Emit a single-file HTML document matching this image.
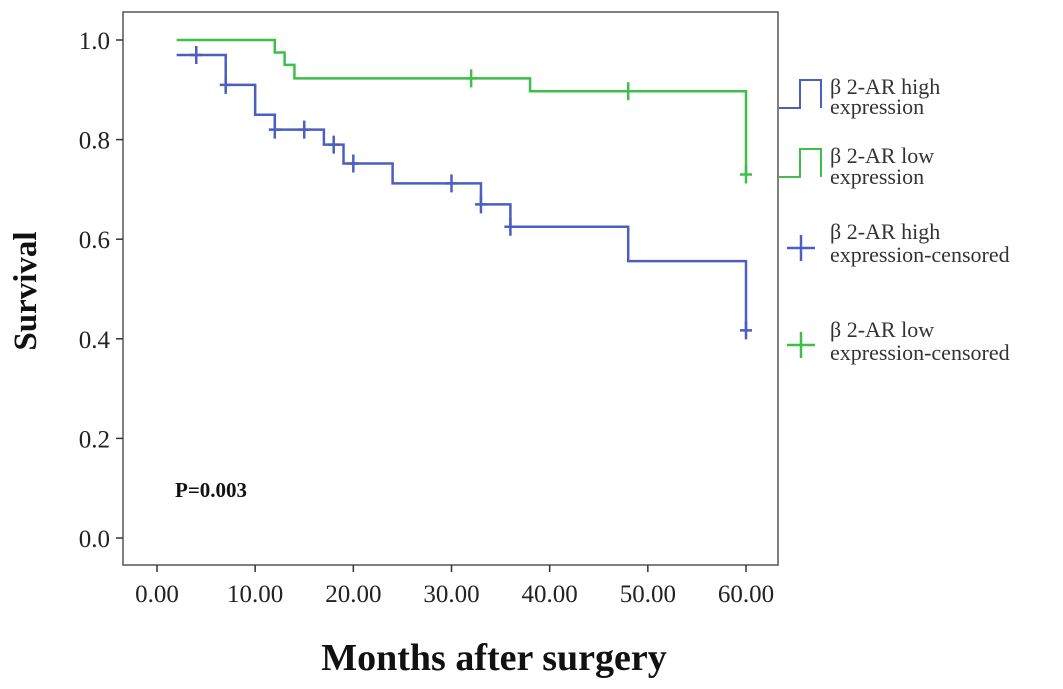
<!DOCTYPE html>
<html><head><meta charset="utf-8"><style>
body{margin:0;background:#fff;}
svg{display:block;font-family:"Liberation Serif",serif;}
</style></head><body>
<svg id="chart" width="1063" height="689" viewBox="0 0 1063 689">
<rect x="123" y="12" width="655" height="553" fill="#fff" stroke="#555" stroke-width="1.5"/>
<g id="axes"></g>
<g id="series"></g>
<text x="175" y="497" font-size="21" font-weight="bold" fill="#111">P=0.003</text>
<text x="494" y="670" font-size="38" font-weight="bold" text-anchor="middle" fill="#111">Months after surgery</text>
<text transform="translate(36,291) rotate(-90)" font-size="33" font-weight="bold" text-anchor="middle" fill="#111">Survival</text>
<g font-size="22" fill="#333">
<path d="M779,108 H800 V80 H821 V108" fill="none" stroke="#4a5fc1" stroke-width="2"/>
<text x="830" y="94">β 2-AR high</text><text x="830" y="114">expression</text>
<path d="M779,177 H800 V149 H821 V177" fill="none" stroke="#3fbf4a" stroke-width="2"/>
<text x="830" y="163">β 2-AR low</text><text x="830" y="184">expression</text>
<path d="M787,248 H815 M801,235 V261" stroke="#4a5fc1" stroke-width="2.5"/>
<text x="830" y="239">β 2-AR high</text><text x="830" y="262">expression-censored</text>
<path d="M787,345 H815 M801,332 V358" stroke="#3fbf4a" stroke-width="2.5"/>
<text x="830" y="337">β 2-AR low</text><text x="830" y="360">expression-censored</text>
</g>
</svg>
<script>
const xTicks=[0,10,20,30,40,50,60];
const xTickLabels=["0.00","10.00","20.00","30.00","40.00","50.00","60.00"];
const yTicks=[0,0.2,0.4,0.6,0.8,1.0];
const yTickLabels=["0.0","0.2","0.4","0.6","0.8","1.0"];
const highTimes=[2,7,10,12,17,19,24,33,36,48,60];
const highSurv=[0.97,0.91,0.85,0.82,0.79,0.752,0.712,0.67,0.625,0.556,0.417];
const highCensT=[4,7,12,15,18,20,30,33,36,60];
const highCensS=[0.97,0.91,0.82,0.82,0.79,0.752,0.712,0.67,0.625,0.417];
const lowTimes=[2,12,13,14,38,60];
const lowSurv=[1.0,0.975,0.95,0.923,0.897,0.73];
const lowCensT=[32,48,60];
const lowCensS=[0.923,0.897,0.73];
const xs=t=>157+t*(746-157)/60;
const ys=v=>538-v*(538-40);
const NS="http://www.w3.org/2000/svg";
const ax=document.getElementById('axes'),se=document.getElementById('series');
function mk(tag,attrs,parent){const e=document.createElementNS(NS,tag);for(const k in attrs)e.setAttribute(k,attrs[k]);parent.appendChild(e);return e;}
xTicks.forEach((t,i)=>{
 const l=mk('line',{x1:xs(t),x2:xs(t),y1:565,y2:572,stroke:'#333','stroke-width':1.5},ax);
 
 
 const tx=mk('text',{x:xs(t),y:602,'font-size':25,'text-anchor':'middle',fill:'#222'},ax);tx.textContent=xTickLabels[i];
 
 
});
yTicks.forEach((v,i)=>{
 const l=mk('line',{x1:116,x2:123,y1:ys(v),y2:ys(v),stroke:'#333','stroke-width':1.5},ax);
 
 
 const tx=mk('text',{x:110,y:ys(v)+9,'font-size':25,'text-anchor':'end',fill:'#222'},ax);tx.textContent=yTickLabels[i];
 
 
});
function curve(times,surv,color,name){
 let d='M'+xs(times[0])+','+ys(surv[0]);
 for(let i=1;i<times.length;i++){d+=' H'+xs(times[i])+' V'+ys(surv[i]);}
 const p=mk('path',{d:d,fill:'none',stroke:color,'stroke-width':2.5},se);
 
 
}
function cens(ts,ss,color,name){
 ts.forEach((t,i)=>{const x=xs(t),y=ys(ss[i]);
  const p=mk('path',{d:`M${x-6},${y} H${x+6} M${x},${y-9} V${y+9}`,stroke:color,'stroke-width':2.5},se);
  
  
 });
}
curve(lowTimes,lowSurv,'#3fbf4a','low-expression-curve');
curve(highTimes,highSurv,'#4a5fc1','high-expression-curve');
cens(lowCensT,lowCensS,'#3fbf4a','low-censored-mark');
cens(highCensT,highCensS,'#4a5fc1','high-censored-mark');
</script>
</body></html>
